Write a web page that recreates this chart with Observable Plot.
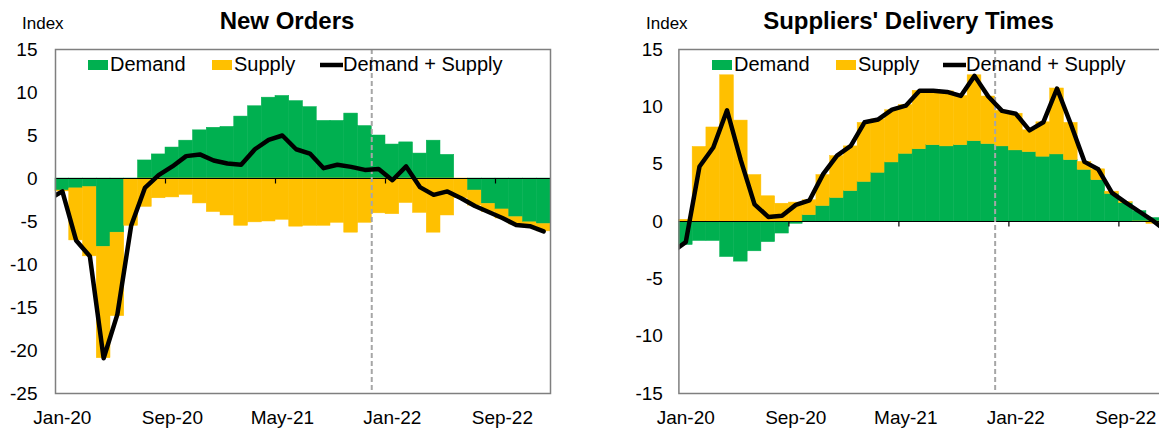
<!DOCTYPE html>
<html><head><meta charset="utf-8">
<script src="https://cdn.jsdelivr.net/npm/d3@7"></script>
<script src="https://cdn.jsdelivr.net/npm/@observablehq/plot@0.6"></script>
<style>
html,body{margin:0;padding:0;background:#fff;}
#wrap{position:relative;width:1159px;height:430px;overflow:hidden;font-family:"Liberation Sans",Arial,sans-serif;}
.panel{position:absolute;top:0;}
</style></head>
<body><div id="wrap"><div class="panel" id="p1" style="left:0;width:560px"></div><div class="panel" id="p2" style="left:580px;width:620px"></div></div>
<script>
const months = ["Jan-20","Feb-20","Mar-20","Apr-20","May-20","Jun-20","Jul-20","Aug-20","Sep-20","Oct-20","Nov-20","Dec-20",
  "Jan-21","Feb-21","Mar-21","Apr-21","May-21","Jun-21","Jul-21","Aug-21","Sep-21","Oct-21","Nov-21","Dec-21",
  "Jan-22","Feb-22","Mar-22","Apr-22","May-22","Jun-22","Jul-22","Aug-22","Sep-22","Oct-22","Nov-22","Dec-22"];
const leadMonth = "Dec-19";
const xTickLabels = ["Jan-20","Sep-20","May-21","Jan-22","Sep-22"];
const tickMarkMonths = ["Sep-20","May-21","Jan-22","Sep-22"];
const markerMonth = "Dec-21";
const seriesNames = ["Demand","Supply","Demand + Supply"];
const seriesColors = ["#00B050","#FFC000","#000000"];

// New Orders
const ordersDemand = [-1.4,-1.15,-1.0,-7.95,-6.3,-0.1,2.1,2.8,3.6,4.4,5.6,5.9,6.0,7.2,8.4,9.4,9.6,9.0,8.3,6.7,6.7,7.55,6.1,5.0,3.95,4.2,2.9,4.4,2.75,0.0,-1.4,-2.95,-3.6,-4.5,-5.1,-5.3];
const ordersSupply = [-0.1,-6.05,-8.05,-12.95,-9.7,-5.4,-3.3,-2.3,-2.2,-1.9,-2.9,-3.9,-4.3,-5.5,-5.1,-5.0,-4.8,-5.6,-5.5,-5.5,-5.15,-6.3,-5.15,-4.05,-4.15,-2.85,-4.0,-6.3,-4.3,-2.3,-1.75,-0.95,-1.05,-0.85,-0.5,-0.85];
const ordersTotal = [-2.4,-1.5,-7.2,-9.05,-20.9,-15.8,-5.5,-1.1,0.4,1.4,2.6,2.8,2.1,1.75,1.6,3.4,4.5,5.0,3.4,2.9,1.2,1.6,1.35,1.0,1.1,-0.2,1.4,-1.0,-1.9,-1.5,-2.3,-3.2,-3.9,-4.6,-5.4,-5.55,-6.15];
const ordersYTicks = [15,10,5,0,-5,-10,-15,-20,-25];

// Suppliers' Delivery Times
const deliveryDemand = [-2.05,-1.7,-1.7,-3.1,-3.5,-2.6,-1.8,-1.05,-0.2,0.55,1.35,2.05,2.65,3.45,4.25,5.15,5.9,6.3,6.65,6.55,6.65,7.0,6.75,6.55,6.2,6.05,5.65,5.85,5.35,4.5,3.6,2.4,1.6,0.9,0.3,-0.3];
const deliverySupply = [0.15,6.5,8.2,12.75,8.8,4.05,2.2,1.55,1.65,1.3,2.7,3.65,3.9,5.15,4.65,4.55,4.25,5.1,4.8,4.8,4.3,5.75,4.15,3.1,3.2,1.9,3.0,5.75,3.25,0.7,0.95,0.2,0.1,-0.05,-0.2,-0.6];
const deliveryTotal = [-2.65,-1.8,4.8,6.45,9.7,5.35,1.5,0.4,0.5,1.45,1.85,4.15,5.75,6.6,8.65,8.9,9.75,10.1,11.4,11.4,11.3,10.95,12.7,10.9,9.65,9.4,7.95,8.65,11.6,8.5,5.2,4.55,2.5,1.65,0.85,0.05,-0.9];
const deliveryYTicks = [15,10,5,0,-5,-10,-15];

const FONT = "Liberation Sans, Arial, Helvetica, sans-serif";

function makePanel(el, o) {
  const n = months.length;
  const bars = [];
  months.forEach((m, i) => {
    bars.push({i0: i, i1: i + 1, series: seriesNames[0], v: o.demand[i]});
    bars.push({i0: i, i1: i + 1, series: seriesNames[1], v: o.supply[i]});
  });
  const lineMonths = [leadMonth, ...months];
  const line = lineMonths.map((m, k) => ({x: k - 0.5, v: o.total[k]}));
  const tickPos = xTickLabels.map(l => months.indexOf(l) + 0.5);
  const markPos = tickMarkMonths.map(l => months.indexOf(l));
  const plot = Plot.plot({
    width: o.width, height: 430,
    marginLeft: o.ml, marginRight: o.mr, marginTop: 49, marginBottom: 37,
    x: {type: "linear", domain: [0, n], axis: null, label: null},
    y: {domain: o.yDomain, axis: null, label: null},
    color: {domain: seriesNames.slice(0, 2), range: seriesColors.slice(0, 2)},
    style: {fontFamily: FONT, fontSize: "19px", background: "white", color: "black", overflow: "visible"},
    marks: [
      Plot.rectY(bars, {x1: "i0", x2: "i1", y: "v", fill: "series", stroke: "series", strokeWidth: 0.5}),
      Plot.ruleY([0], {stroke: "black", strokeWidth: 1.2}),
      Plot.ruleX(markPos, {y1: 0, y2: 0, insetBottom: -5.5, stroke: "black", strokeWidth: 1.2}),
      Plot.ruleX([months.indexOf(markerMonth)], {stroke: "#a6a6a6", strokeWidth: 2, strokeDasharray: "5,3"}),
      Plot.lineY(line, {x: "x", y: "v", stroke: "black", strokeWidth: 4.5, clip: true, strokeLinejoin: "round"}),
      Plot.frame({stroke: "#7f7f7f", strokeWidth: 1.5}),
      Plot.axisY(o.yTicks, {tickSize: 0, tickPadding: o.yPad, tickFormat: d => String(d), fontSize: 19, label: null}),
      Plot.axisX(tickPos, {tickSize: 0, tickPadding: 17, tickFormat: d => xTickLabels[tickPos.indexOf(d)], fontSize: 19, label: null})
    ]
  });
  const svg = d3.select(plot);
  const g = svg.append("g").attr("font-family", FONT).attr("fill", "black").attr("text-anchor", "start");
  g.append("text").attr("x", o.titleX).attr("y", 29).attr("text-anchor", "middle")
    .attr("font-size", 24).attr("font-weight", "bold").text(o.title);
  g.append("text").attr("x", o.indexX).attr("y", 29).attr("font-size", 17).text("Index");
  const lg = g.append("g").attr("font-size", 20).attr("text-anchor", "start");
  lg.append("rect").attr("x", o.leg[0]).attr("y", 60).attr("width", 20).attr("height", 10).attr("fill", seriesColors[0]);
  lg.append("text").attr("x", o.leg[0] + 22).attr("y", 71).text(seriesNames[0]);
  lg.append("rect").attr("x", o.leg[1]).attr("y", 60).attr("width", 20).attr("height", 10).attr("fill", seriesColors[1]);
  lg.append("text").attr("x", o.leg[1] + 22).attr("y", 71).text(seriesNames[1]);
  lg.append("line").attr("x1", o.leg[2]).attr("x2", o.leg[2] + 23).attr("y1", 65).attr("y2", 65)
    .attr("stroke", seriesColors[2]).attr("stroke-width", 4.5);
  lg.append("text").attr("x", o.leg[2] + 23).attr("y", 71).text(seriesNames[2]);
  document.getElementById(el).appendChild(plot);
}

makePanel("p1", {
  title: "New Orders", titleX: 287, indexX: 22,
  demand: ordersDemand, supply: ordersSupply, total: ordersTotal,
  yDomain: [-25, 15], yTicks: ordersYTicks, yPad: 18,
  width: 560, ml: 55, mr: 10, leg: [88, 212, 320]
});
makePanel("p2", {
  title: "Suppliers' Delivery Times", titleX: 328.5, indexX: 66,
  demand: deliveryDemand, supply: deliverySupply, total: deliveryTotal,
  yDomain: [-15, 15], yTicks: deliveryYTicks, yPad: 16,
  width: 620, ml: 98.4, mr: 26.6, leg: [132, 256, 363]
});
</script>
</body></html>
